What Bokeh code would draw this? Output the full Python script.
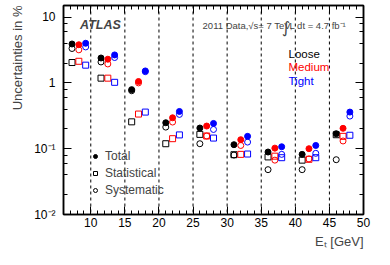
from bokeh.plotting import figure
from bokeh.models import (Range1d, FixedTicker, LinearAxis, LogAxis, Span, Label,
                          Legend, LegendItem, LogTicker, Title)
from bokeh.embed import file_html
from bokeh.resources import INLINE

# ---------------- data ----------------
bin_edges = [10, 15, 20, 25, 30, 35, 40, 45]
x_loose = [7.25, 11.5, 16, 21, 26, 31, 36, 41, 46]
x_medium = [8.25, 12.5, 17, 22, 27, 32, 37, 42, 47]
x_tight = [9.25, 13.5, 18, 23, 28, 33, 38, 43, 48]

loose_total = [3.9, 2.39, 0.79, 0.248, 0.206, 0.115, 0.089, 0.082, 0.169]
loose_stat = [2.04, 1.18, 0.256, 0.119, 0.165, 0.081, 0.075, 0.067, 0.163]
loose_syst = [3.33, 2.08, 0.76, 0.213, 0.119, 0.080, 0.048, 0.048, 0.068]

medium_total = [3.8, 2.29, 1.05, 0.295, 0.221, 0.137, 0.102, 0.100, 0.204]
medium_stat = [2.13, 1.18, 0.336, 0.142, 0.156, 0.082, 0.077, 0.069, 0.154]
medium_syst = [3.18, 1.94, 1.0, 0.254, 0.156, 0.112, 0.067, 0.070, 0.131]

tight_total = [4.0, 2.66, 1.52, 0.368, 0.242, 0.154, 0.107, 0.112, 0.36]
tight_stat = [1.86, 1.02, 0.36, 0.162, 0.145, 0.083, 0.073, 0.073, 0.16]
tight_syst = [3.52, 2.43, 1.48, 0.332, 0.196, 0.126, 0.082, 0.085, 0.313]

x_ticks = [10, 15, 20, 25, 30, 35, 40, 45, 50]
x_minor = list(range(6, 51))
y_tick_labels = {0.01: "10\u207b\u00b2", 0.1: "10\u207b\u00b9", 1: "1", 10: "10"}

FONT = "Liberation Sans"

p = figure(width=374, height=251, output_backend="svg", toolbar_location=None,
           y_axis_type="log", x_range=Range1d(6, 50), y_range=Range1d(0.01, 15))
p.min_border_left = 54
p.min_border_right = 11
p.min_border_top = 5
p.min_border_bottom = 37
p.xgrid.visible = False
p.ygrid.visible = False
p.outline_line_color = "black"
p.outline_line_width = 1.5
p.background_fill_color = "white"
p.border_fill_color = "white"

def style_axis(ax, labels=True):
    ax.major_tick_in = 8
    ax.major_tick_out = 0
    ax.minor_tick_in = 4
    ax.minor_tick_out = 0
    ax.axis_line_width = 1.5
    ax.major_tick_line_width = 1
    ax.minor_tick_line_width = 1
    ax.major_label_text_font = FONT
    ax.major_label_text_font_size = "12px"
    ax.major_label_text_color = "black"
    if not labels:
        ax.major_label_text_font_size = "0px"
        ax.major_label_text_alpha = 0
        ax.major_label_standoff = 0

xt = FixedTicker(ticks=x_ticks, minor_ticks=x_minor)
p.xaxis.ticker = xt
p.xaxis.major_label_standoff = 3
style_axis(p.xaxis[0])
p.yaxis.ticker = LogTicker(mantissas=[1], desired_num_ticks=4)
p.yaxis.major_label_overrides = y_tick_labels
p.yaxis.major_label_standoff = 8
style_axis(p.yaxis[0])

top = LinearAxis(ticker=xt)
style_axis(top, labels=False)
p.add_layout(top, "above")
right = LogAxis(ticker=LogTicker(mantissas=[1], desired_num_ticks=4))
style_axis(right, labels=False)
p.add_layout(right, "right")

# axis titles, aligned to the far ends as in the reference
p.add_layout(Title(text="Uncertainties in %", align="right", text_font=FONT,
                   text_font_size="13px", text_font_style="normal", standoff=14), "left")
p.add_layout(Title(text="E\u209c [GeV]", align="right", text_font=FONT,
                   text_font_size="13px", text_font_style="normal", standoff=4), "below")

for e in bin_edges:
    p.add_layout(Span(location=e, dimension="height", line_color="black",
                      line_dash="3 3", line_width=1))

S = 6
series = [("black", x_loose, loose_total, loose_stat, loose_syst),
          ("red", x_medium, medium_total, medium_stat, medium_syst),
          ("blue", x_tight, tight_total, tight_stat, tight_syst)]
legend_refs = {}
for col, xs, tot, st, sy in series:
    r_st = p.scatter(xs, st, marker="square", size=S, fill_color=None, line_color=col, line_width=1)
    r_sy = p.scatter(xs, sy, marker="circle", size=S, fill_color=None, line_color=col, line_width=1)
    r_tot = p.scatter(xs, tot, marker="circle", size=S, fill_color=col, line_color=col, line_width=1)
    if col == "black":
        legend_refs = {"Total": r_tot, "Statistical": r_st, "Systematic": r_sy}

legend = Legend(items=[LegendItem(label=k, renderers=[v]) for k, v in legend_refs.items()],
                location=(27, 17), background_fill_alpha=0, border_line_alpha=0,
                label_text_font=FONT, label_text_font_size="12px",
                glyph_width=10, glyph_height=10, label_height=10, spacing=3,
                label_standoff=5, padding=0, margin=0)
p.add_layout(legend, "center")

# working point labels
for txt, col, yv in [("Loose", "black", 2.72), ("Medium", "red", 1.72), ("Tight", "blue", 1.08)]:
    p.add_layout(Label(x=39.0, y=yv, text=txt, text_color=col, text_font=FONT,
                       text_font_size="11.5px", text_baseline="middle"))

p.add_layout(Label(x=8.43, y=7.5, text="ATLAS", text_font=FONT, text_font_size="12.5px",
                   text_font_style="bold italic", text_baseline="middle"))
p.add_layout(Label(x=26.4, y=7.4, text="2011 Data,\u221as= 7 TeV,", text_font=FONT,
                   text_font_size="9.5px", text_baseline="middle"))
p.add_layout(Label(x=38.0, y=7.0, text="\u222b", text_font="DejaVu Sans", text_font_size="16px",
                   text_baseline="middle"))
p.add_layout(Label(x=39.15, y=7.4, text="L dt = 4.7 fb\u207b\u00b9", text_font=FONT,
                   text_font_size="9.5px", text_baseline="middle"))

open("out.html", "w").write(file_html(p, INLINE))
